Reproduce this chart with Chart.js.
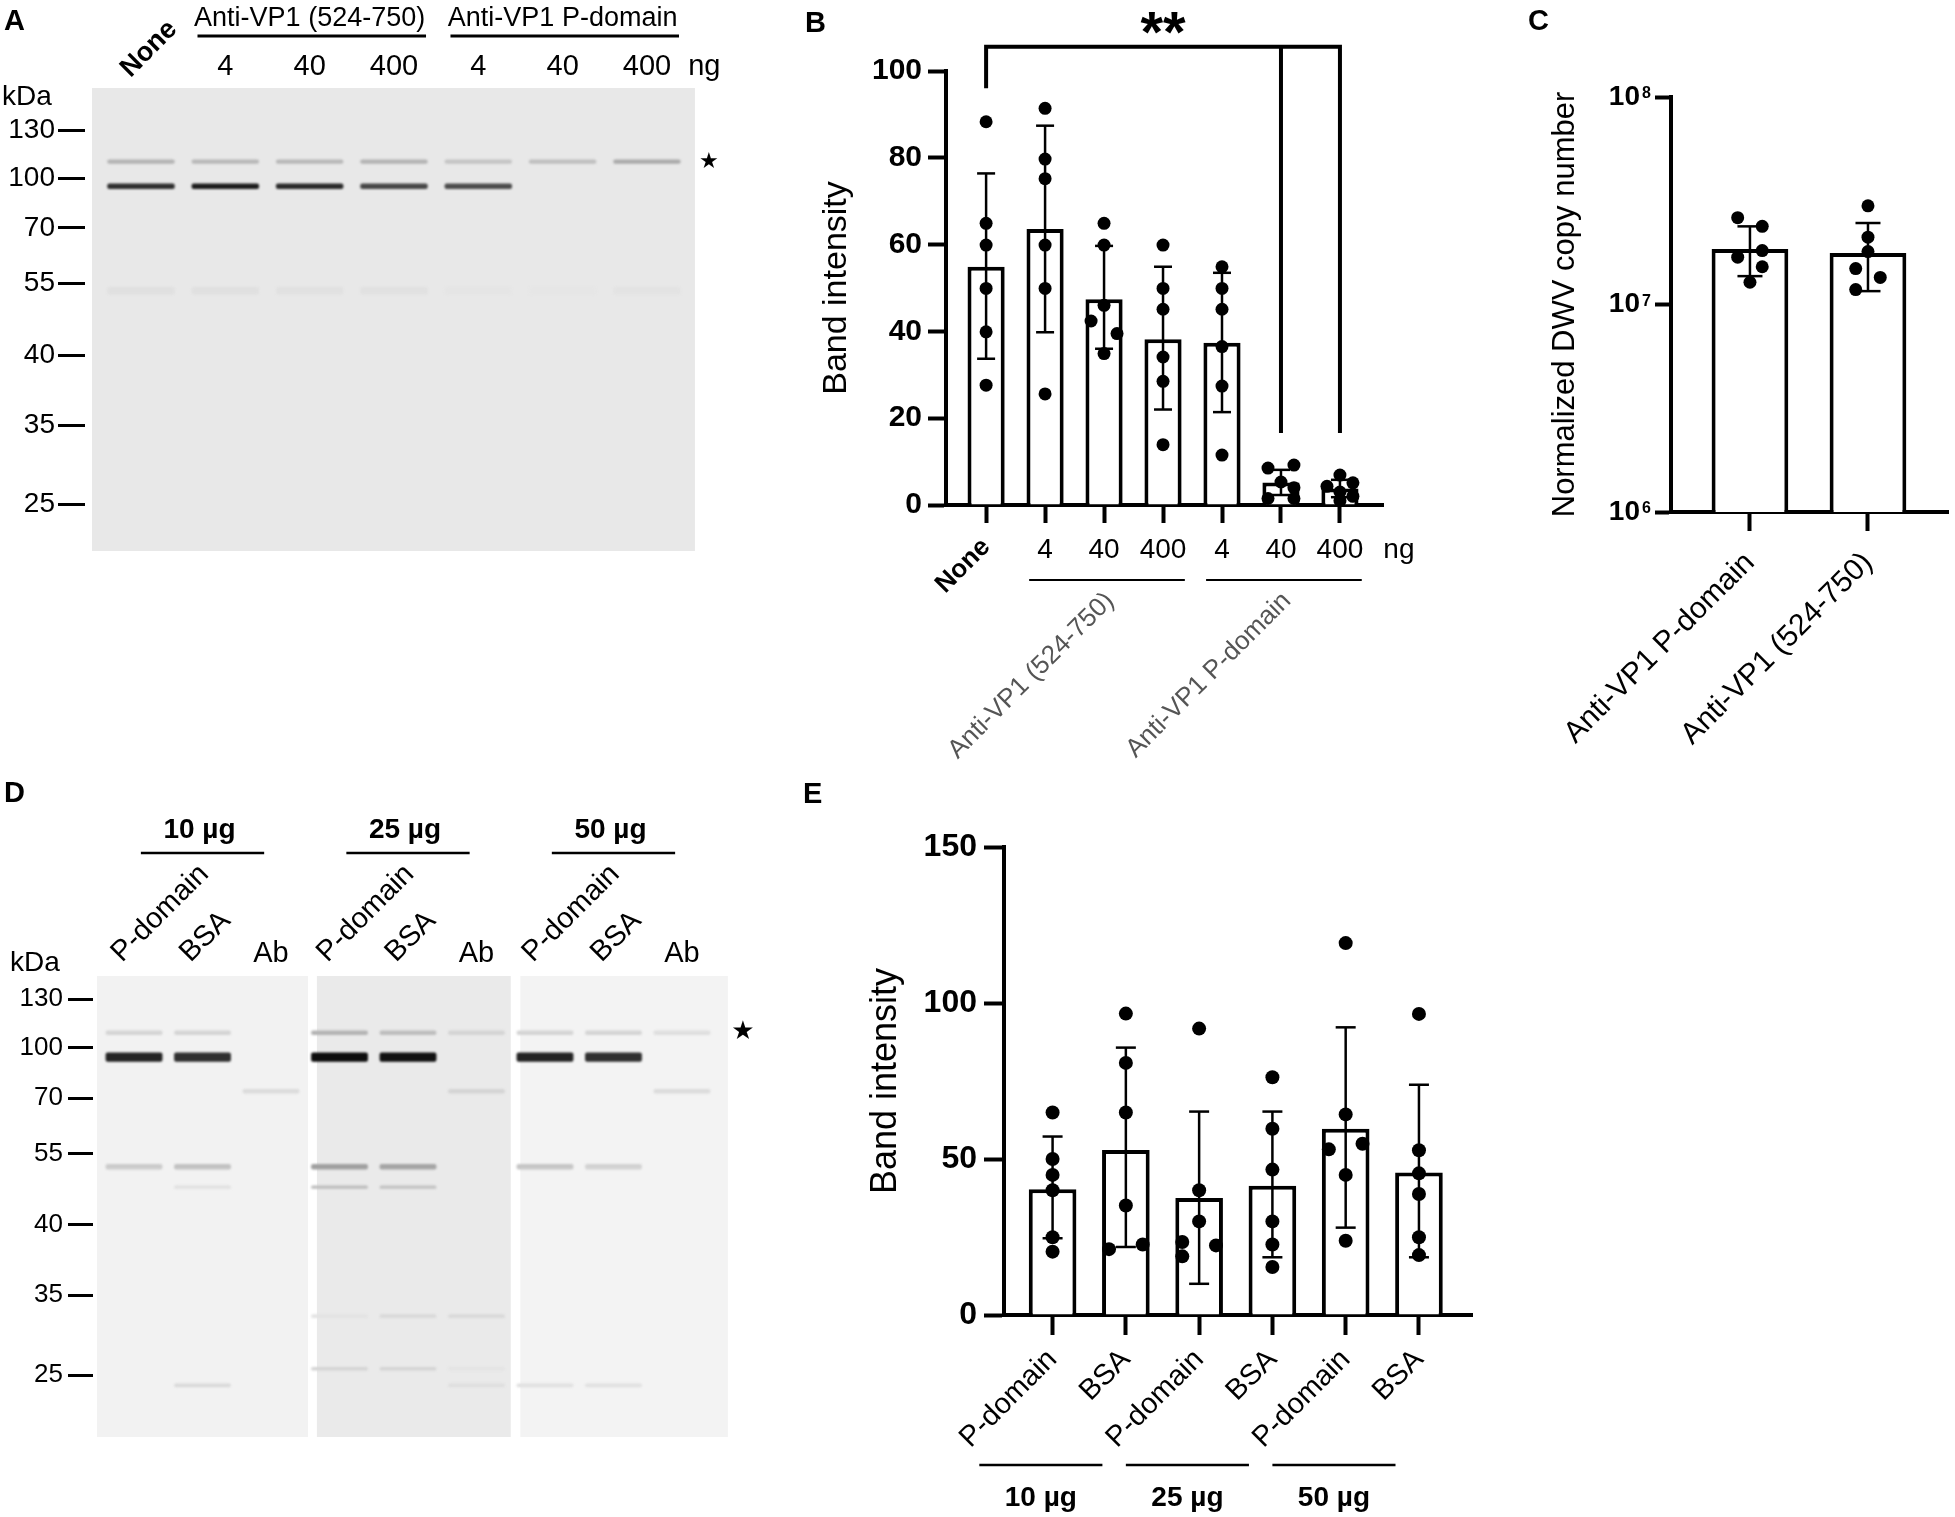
<!DOCTYPE html>
<html lang="en">
<head>
<meta charset="utf-8">
<title>VP1 antibody blots and band intensity</title>
<script src="https://cdn.jsdelivr.net/npm/chart.js@4.4.1/dist/chart.umd.min.js"></script>
<style>
  html, body { margin: 0; padding: 0; background: #fff; }
  #figure { position: relative; width: 1955px; height: 1517px; overflow: hidden; }
  #figure canvas { position: absolute; }
</style>
</head>
<body>
<div id="figure">
  <canvas id="panelA" width="760" height="770" style="left:0px;top:0px;width:760px;height:770px"></canvas>
  <canvas id="panelB" width="700" height="770" style="left:760px;top:0px;width:700px;height:770px"></canvas>
  <canvas id="panelC" width="495" height="770" style="left:1460px;top:0px;width:495px;height:770px"></canvas>
  <canvas id="panelD" width="760" height="747" style="left:0px;top:770px;width:760px;height:747px"></canvas>
  <canvas id="panelE" width="760" height="747" style="left:760px;top:770px;width:760px;height:747px"></canvas>
</div>
<script>
// ---------- Panel A : western blot ----------
const blotALanes = ['None', '4', '40', '400', '4', '40', '400'];
const blotAGroups = ['Anti-VP1 (524-750)', 'Anti-VP1 P-domain'];
const blotAGroupLanes = [[1, 3], [4, 6]];
const blotAKda = [130, 100, 70, 55, 40, 35, 25];
const blotAMarkerPos = [9.1, 19.5, 30.2, 42.2, 57.8, 72.9, 89.9];   // % of gel height
const blotABandPos = [15.9, 21.2, 43.8];
const blotABandDark = [
  [0.24, 0.22, 0.22, 0.24, 0.17, 0.19, 0.28],
  [0.80, 0.88, 0.82, 0.70, 0.68, 0, 0],
  [0.05, 0.05, 0.045, 0.045, 0.03, 0.025, 0.04]
];

// ---------- Panel B ----------
const bLanes = ['None', '4', '40', '400', '4', '40', '400'];
const bUnit = 'ng';
const bGroups = ['Anti-VP1 (524-750)', 'Anti-VP1 P-domain'];
const bGroupLanes = [[1, 3], [4, 6]];
const bTicks = [0, 20, 40, 60, 80, 100];
const bMeans = [54.9, 63.6, 47.4, 38.2, 37.4, 5.2, 3.8];
const bSdLow = [33.7, 39.8, 36.0, 22.0, 21.4, 2.3, 1.8];
const bSdHigh = [76.4, 87.4, 59.7, 54.9, 53.5, 8.1, 5.8];
const bDots = [
  [88.3, 64.9, 59.9, 49.9, 39.9, 27.6],
  [91.4, 79.7, 75.2, 59.9, 49.9, 25.6],
  [64.9, 59.9, 46.0, 42.4, 39.5, 34.9],
  [59.9, 49.9, 45.1, 34.1, 28.5, 13.9],
  [54.9, 49.9, 45.1, 36.5, 27.4, 11.5],
  [9.2, 8.5, 5.3, 4.0, 1.5, 1.5],
  [6.9, 5.1, 4.3, 3.0, 2.0, 1.0]
];
const bDotSide = [
  [0, 0, 0, 0, 0, 0],
  [0, 0, 0, 0, 0, 0],
  [0, 0, 0, -1, 1, 0],
  [0, 0, 0, 0, 0, 0],
  [0, 0, 0, 0, 0, 0],
  [1, -1, 0, 1, -1, 1],
  [0, 1, -1, 0, 1, 0]
];
const bSignif = '**';

// ---------- Panel C ----------
const cLabels = ['Anti-VP1 P-domain', 'Anti-VP1 (524-750)'];
const cTicks = [1e6, 1e7, 1e8];
const cMeans = [1.85e7, 1.77e7];
const cSdLow = [1.37e7, 1.16e7];
const cSdHigh = [2.38e7, 2.47e7];
const cDots = [
  [2.62e7, 2.38e7, 1.82e7, 1.69e7, 1.52e7, 1.28e7],
  [2.99e7, 2.11e7, 1.80e7, 1.49e7, 1.35e7, 1.18e7]
];
const cDotSide = [
  [-1, 1, 1, -1, 1, 0],
  [0, 0, 0, -1, 1, -1]
];

// ---------- Panel D : western blot ----------
const blotDLanes = ['P-domain', 'BSA', 'Ab', 'P-domain', 'BSA', 'Ab', 'P-domain', 'BSA', 'Ab'];
const blotDGroups = ['10 µg', '25 µg', '50 µg'];
const blotDKda = [130, 100, 70, 55, 40, 35, 25];
const blotDMarkerPos = [5.0, 15.6, 26.5, 38.6, 54.0, 69.2, 86.6];
const blotDBandPos = [12.3, 17.6, 25.0, 41.4, 45.8, 73.8, 85.2, 88.8];
const blotDBandDark = [
  [0.10, 0.10, 0, 0.24, 0.20, 0.10, 0.10, 0.10, 0.06],
  [0.85, 0.80, 0, 0.95, 0.93, 0, 0.85, 0.80, 0],
  [0, 0, 0.07, 0, 0, 0.10, 0, 0, 0.07],
  [0.14, 0.18, 0, 0.32, 0.30, 0, 0.16, 0.11, 0],
  [0, 0.05, 0, 0.20, 0.18, 0, 0, 0, 0],
  [0, 0, 0, 0.04, 0.08, 0.08, 0, 0, 0],
  [0, 0, 0, 0.10, 0.10, 0.04, 0, 0, 0],
  [0, 0.08, 0, 0, 0, 0.06, 0.05, 0.05, 0]
];

// ---------- Panel E ----------
const eLanes = ['P-domain', 'BSA', 'P-domain', 'BSA', 'P-domain', 'BSA'];
const eGroups = ['10 µg', '25 µg', '50 µg'];
const eTicks = [0, 50, 100, 150];
const eMeans = [40.3, 52.9, 37.5, 41.4, 59.7, 45.7];
const eSdLow = [24.6, 21.8, 10.0, 18.5, 28.0, 18.5];
const eSdHigh = [57.2, 85.7, 65.2, 65.2, 92.2, 73.8];
const eDots = [
  [64.9, 50.0, 44.9, 40.0, 24.9, 20.3],
  [96.6, 80.8, 64.9, 35.1, 22.6, 21.1],
  [91.8, 40.0, 30.0, 23.4, 22.3, 18.8],
  [76.2, 59.7, 46.6, 30.0, 22.6, 15.4],
  [119.2, 64.3, 54.9, 53.1, 44.9, 23.8],
  [96.5, 52.8, 45.4, 38.8, 24.9, 19.2]
];
const eDotSide = [
  [0, 0, 0, 0, 0, 0],
  [0, 0, 0, 0, 1, -1],
  [0, 0, 0, -1, 1, -1],
  [0, 0, 0, 0, 0, 0],
  [0, 0, 1, -1, 0, 0],
  [0, 0, 0, 0, 0, 0]
];

// ---------- helpers ----------
const SANS = "'Liberation Sans', Arial, Helvetica, sans-serif";
const STAR = "'DejaVu Sans', sans-serif";
const DIAG = -Math.PI / 4;

Chart.defaults.font.family = SANS;
Chart.defaults.color = '#000';

function text(ctx, s, x, y, font, opt = {}) {
  ctx.save();
  ctx.font = font;
  ctx.fillStyle = opt.color || '#000';
  ctx.textAlign = opt.align || 'center';
  ctx.textBaseline = opt.baseline || 'alphabetic';
  ctx.translate(x, y);
  if (opt.rot) ctx.rotate(opt.rot);
  ctx.fillText(s, 0, 0);
  ctx.restore();
}

function line(ctx, pts, width) {
  ctx.save();
  ctx.strokeStyle = '#000';
  ctx.lineWidth = width;
  ctx.beginPath();
  pts.forEach(([x, y], i) => (i ? ctx.lineTo(x, y) : ctx.moveTo(x, y)));
  ctx.stroke();
  ctx.restore();
}

function gray(d) {
  const v = Math.round(236 * (1 - d));
  return `rgb(${v},${v},${v})`;
}

const ticksAt = values => scale => { scale.ticks = values.map(value => ({ value })); };
const lanesOf = list => list.map((_, i) => i);

function commonOptions(padding) {
  return {
    responsive: false,
    maintainAspectRatio: false,
    devicePixelRatio: 1,
    animation: false,
    events: [],
    layout: { padding },
    plugins: { legend: { display: false }, tooltip: { enabled: false } }
  };
}

function valueAxis(o) {
  const ticks = { color: '#000', font: { size: o.fontSize, weight: 'bold' }, padding: o.padding, autoSkip: false };
  if (o.callback) ticks.callback = o.callback;
  return {
    type: o.type || 'linear',
    min: o.min,
    max: o.max,
    afterBuildTicks: ticksAt(o.ticks),
    afterFit: scale => { scale.width = o.width; },
    border: { display: true, color: '#000', width: 4 },
    grid: { drawOnChartArea: false, tickLength: o.tickLength, tickWidth: 4, tickColor: '#000' },
    ticks,
    title: { display: true, text: o.title, color: '#000', font: { size: o.titleSize }, padding: { top: o.titlePad, bottom: 0 } }
  };
}

function laneAxis(o) {
  return {
    type: 'linear',
    min: o.min,
    max: o.max,
    offset: false,
    z: 1,
    afterBuildTicks: ticksAt(o.lanes),
    afterFit: scale => { scale.height = o.height; },
    border: { display: true, color: '#000', width: 4 },
    grid: { offset: false, drawOnChartArea: false, tickLength: o.tickLength, tickWidth: 4, tickColor: '#000' },
    ticks: { display: false, autoSkip: false }
  };
}

function dotPoints(dots, sides, jitter) {
  const pts = [];
  dots.forEach((vals, i) => vals.forEach((v, k) => pts.push({ x: i + sides[i][k] * jitter, y: v })));
  return pts;
}

function barDataset(means, pct) {
  return {
    type: 'bar',
    order: 2,
    data: means.map((v, i) => ({ x: i, y: v })),
    backgroundColor: '#fff',
    borderColor: '#000',
    borderWidth: 4,
    barPercentage: pct,
    categoryPercentage: 1
  };
}

function dotDataset(points, r) {
  return { type: 'scatter', order: 1, data: points, pointRadius: r, pointBackgroundColor: '#000', pointBorderWidth: 0 };
}

function errorBars(lows, highs, capHalf) {
  return {
    id: 'errorBars',
    afterDatasetsDraw(chart) {
      const { ctx, scales: { x, y } } = chart;
      lows.forEach((lo, i) => {
        const px = x.getPixelForValue(i);
        const yl = y.getPixelForValue(lo);
        const yh = y.getPixelForValue(highs[i]);
        line(ctx, [[px, yl], [px, yh]], 2.5);
        line(ctx, [[px - capHalf, yl], [px + capHalf, yl]], 2.5);
        line(ctx, [[px - capHalf, yh], [px + capHalf, yh]], 2.5);
      });
    }
  };
}

function blotBackground(strips, colors) {
  return {
    id: 'blotBackground',
    beforeDatasetsDraw(chart) {
      const { ctx, scales: { x, y } } = chart;
      const top = y.getPixelForValue(0);
      const bottom = y.getPixelForValue(100);
      strips.forEach(([a, b], i) => {
        const x1 = x.getPixelForValue(a);
        ctx.fillStyle = colors[i];
        ctx.fillRect(x1, top, x.getPixelForValue(b) - x1, bottom - top);
      });
      ctx.filter = 'blur(1px)'; // soften the bands a little
    },
    afterDatasetsDraw(chart) {
      chart.ctx.filter = 'none';
    }
  };
}

function blotChart(id, o) {
  const datasets = o.bandPos.map((pos, r) => {
    const lanes = lanesOf(o.lanes).filter(i => o.dark[r][i] > 0);
    return {
      type: 'bar',
      grouped: false,
      data: lanes.map(i => ({ x: i, y: [pos - o.half[r], pos + o.half[r]] })),
      backgroundColor: lanes.map(i => gray(o.dark[r][i])),
      borderWidth: 0,
      borderSkipped: false,
      borderRadius: 2,
      barPercentage: o.bandWidth,
      categoryPercentage: 1
    };
  });
  return new Chart(document.getElementById(id), {
    type: 'bar',
    data: { datasets },
    options: {
      ...commonOptions(o.padding),
      scales: {
        x: {
          type: 'linear', display: false, offset: false, grid: { offset: false },
          min: o.xMin, max: o.xMax, afterBuildTicks: ticksAt(lanesOf(o.lanes))
        },
        y: {
          type: 'linear',
          reverse: true,
          min: 0,
          max: 100,
          afterBuildTicks: ticksAt(o.markerPos),
          afterFit: scale => { scale.width = o.axisWidth; },
          border: { display: false },
          grid: { drawOnChartArea: false, tickLength: o.tickLength, tickWidth: 3, tickColor: '#000' },
          ticks: { color: '#000', font: { size: o.fontSize }, padding: o.tickPad, autoSkip: false, callback: (v, i) => o.kda[i] }
        }
      }
    },
    plugins: [blotBackground(o.strips, o.stripColors), o.decor]
  });
}

// ---------- panel A ----------
const panelADecor = {
  id: 'panelADecor',
  afterDraw(chart) {
    const { ctx, scales: { x, y } } = chart;
    const px = v => x.getPixelForValue(v);
    text(ctx, 'A', 4, 30, `bold 29px ${SANS}`, { align: 'left' });
    text(ctx, blotALanes[0], px(0) + 8, 49, `bold 27px ${SANS}`, { baseline: 'middle', rot: DIAG });
    blotALanes.slice(1).forEach((lab, k) => text(ctx, lab, px(k + 1), 75, `29px ${SANS}`));
    text(ctx, 'ng', px(6.68), 75, `29px ${SANS}`);
    blotAGroupLanes.forEach(([a, b], g) => {
      text(ctx, blotAGroups[g], (px(a) + px(b)) / 2, 26, `27px ${SANS}`);
      line(ctx, [[px(a - 0.33), 36], [px(b + 0.38), 36]], 3);
    });
    text(ctx, 'kDa', 2, 105, `28px ${SANS}`, { align: 'left' });
    text(ctx, '★', px(6.569) + 14, y.getPixelForValue(blotABandPos[0]) + 1, `22px ${STAR}`, { baseline: 'middle' });
  }
};

blotChart('panelA', {
  lanes: blotALanes,
  kda: blotAKda,
  markerPos: blotAMarkerPos,
  bandPos: blotABandPos,
  dark: blotABandDark,
  half: [0.45, 0.6, 0.8],
  bandWidth: 0.8,
  padding: { left: 0, top: 88, right: 60, bottom: 219 },
  xMin: -0.664,
  xMax: 6.629,
  strips: [[-0.581, 6.569]],
  stripColors: ['#e8e8e8'],
  axisWidth: 85,
  tickLength: 27,
  tickPad: 3,
  fontSize: 28,
  decor: panelADecor
});

// ---------- panel B ----------
const panelBDecor = {
  id: 'panelBDecor',
  afterDraw(chart) {
    const { ctx, scales: { x, y } } = chart;
    const px = v => x.getPixelForValue(v);
    text(ctx, 'B', 45, 32, `bold 29px ${SANS}`, { align: 'left' });
    bLanes.forEach((lab, i) => {
      if (i === 0) text(ctx, lab, px(i), 543, `bold 26px ${SANS}`, { align: 'right', baseline: 'middle', rot: DIAG });
      else text(ctx, lab, px(i), 550, `28px ${SANS}`, { baseline: 'middle' });
    });
    text(ctx, bUnit, px(bLanes.length), 550, `28px ${SANS}`, { baseline: 'middle' });
    bGroupLanes.forEach(([a, b], g) => {
      line(ctx, [[px(a - 0.27), 580], [px(b + 0.37), 580]], 2);
      text(ctx, bGroups[g], (px(a) + px(b)) / 2 + 6, 597, `26px ${SANS}`,
        { align: 'right', baseline: 'middle', rot: DIAG, color: '#555' });
    });
    // None vs anti-P-domain 40 and 400 ng
    const top = y.getPixelForValue(105.6);
    line(ctx, [[px(0), y.getPixelForValue(96)], [px(0), top], [px(6), top], [px(6), y.getPixelForValue(16.6)]], 4);
    line(ctx, [[px(5), top], [px(5), y.getPixelForValue(16.6)]], 4);
    text(ctx, bSignif, (px(0) + px(6)) / 2, top + 5, `bold 58px ${SANS}`);
  }
};

new Chart(document.getElementById('panelB'), {
  type: 'bar',
  data: { datasets: [barDataset(bMeans, 0.63), dotDataset(dotPoints(bDots, bDotSide, 0.22), 6.5)] },
  options: {
    ...commonOptions({ left: 0, top: 71, right: 77, bottom: 0 }),
    scales: {
      x: laneAxis({ min: -0.68, max: 6.73, lanes: lanesOf(bLanes), height: 265, tickLength: 18 }),
      y: valueAxis({ min: 0, max: 100, ticks: bTicks, width: 186, tickLength: 18, padding: 6, fontSize: 30,
        title: 'Band intensity', titleSize: 34, titlePad: 56 })
    }
  },
  plugins: [errorBars(bSdLow, bSdHigh, 9), panelBDecor]
});

// ---------- panel C ----------
const panelCDecor = {
  id: 'panelCDecor',
  afterDraw(chart) {
    const { ctx, chartArea, scales: { x, y } } = chart;
    text(ctx, 'C', 68, 30, `bold 29px ${SANS}`, { align: 'left' });
    // exponent of each decade label
    cTicks.forEach(v => text(ctx, String(Math.round(Math.log10(v))), chartArea.left - 29,
      y.getPixelForValue(v) + 1, `bold 16px ${SANS}`, { align: 'left' }));
    cLabels.forEach((lab, i) => text(ctx, lab, x.getPixelForValue(i), 558, `30px ${SANS}`,
      { align: 'right', baseline: 'middle', rot: DIAG }));
  }
};

new Chart(document.getElementById('panelC'), {
  type: 'bar',
  data: { datasets: [barDataset(cMeans, 0.65), dotDataset(dotPoints(cDots, cDotSide, 0.104), 6.5)] },
  options: {
    ...commonOptions({ left: 0, top: 97, right: 7, bottom: 0 }),
    scales: {
      x: laneAxis({ min: -0.669, max: 1.678, lanes: lanesOf(cLabels), height: 258, tickLength: 19 }),
      y: valueAxis({ type: 'logarithmic', min: 1e6, max: 1e8, ticks: cTicks, width: 211, tickLength: 16, padding: 15,
        fontSize: 28, title: 'Normalized DWV copy number', titleSize: 31, titlePad: 87,
        callback: () => '10' })
    }
  },
  plugins: [errorBars(cSdLow, cSdHigh, 12.5), panelCDecor]
});

// ---------- panel D ----------
const panelDDecor = {
  id: 'panelDDecor',
  afterDraw(chart) {
    const { ctx, scales: { x, y } } = chart;
    const px = v => x.getPixelForValue(v);
    text(ctx, 'D', 4, 32, `bold 29px ${SANS}`, { align: 'left' });
    blotDGroups.forEach((g, k) => {
      const c = 3 * k + 1;
      text(ctx, g, px(c) - 3, 68, `bold 28px ${SANS}`);
      line(ctx, [[px(c - 0.9), 83], [px(c + 0.9), 83]], 2.5);
    });
    blotDLanes.forEach((lab, i) => {
      if (lab === 'Ab') text(ctx, lab, px(i), 192, `29px ${SANS}`);
      else text(ctx, lab, px(i) - 12, 193, `29px ${SANS}`, { align: 'left', rot: DIAG });
    });
    text(ctx, 'kDa', 10, 201, `28px ${SANS}`, { align: 'left' });
    text(ctx, '★', px(8.67) + 15, y.getPixelForValue(blotDBandPos[0]), `26px ${STAR}`, { baseline: 'middle' });
  }
};

blotChart('panelD', {
  lanes: blotDLanes,
  kda: blotDKda,
  markerPos: blotDMarkerPos,
  bandPos: blotDBandPos,
  dark: blotDBandDark,
  half: [0.5, 1.0, 0.5, 0.6, 0.35, 0.4, 0.4, 0.4],
  bandWidth: 0.83,
  padding: { left: 0, top: 206, right: 32, bottom: 80 },
  xMin: -0.599,
  xMax: 8.672,
  strips: [[-0.54, 2.54], [2.67, 5.5], [5.64, 8.67]],
  stripColors: ['#f2f2f2', '#eaeaea', '#f3f3f3'],
  axisWidth: 93,
  tickLength: 25,
  tickPad: 5,
  fontSize: 26,
  decor: panelDDecor
});

// ---------- panel E ----------
const panelEDecor = {
  id: 'panelEDecor',
  afterDraw(chart) {
    const { ctx, scales: { x } } = chart;
    const px = v => x.getPixelForValue(v);
    text(ctx, 'E', 43, 33, `bold 29px ${SANS}`, { align: 'left' });
    eLanes.forEach((lab, i) => text(ctx, lab, px(i), 585, `29px ${SANS}`,
      { align: 'right', baseline: 'middle', rot: DIAG }));
    eGroups.forEach((g, k) => {
      const c = 2 * k + 0.5 - 0.66;
      line(ctx, [[px(c - 0.84), 695], [px(c + 0.84), 695]], 2.5);
      text(ctx, g, px(c), 736, `bold 28px ${SANS}`);
    });
  }
};

new Chart(document.getElementById('panelE'), {
  type: 'bar',
  data: { datasets: [barDataset(eMeans, 0.65), dotDataset(dotPoints(eDots, eDotSide, 0.23), 7)] },
  options: {
    ...commonOptions({ left: 0, top: 77, right: 48, bottom: 0 }),
    scales: {
      x: laneAxis({ min: -0.663, max: 5.724, lanes: lanesOf(eLanes), height: 202, tickLength: 20 }),
      y: valueAxis({ min: 0, max: 150, ticks: eTicks, width: 244, tickLength: 20, padding: 7, fontSize: 32,
        title: 'Band intensity', titleSize: 36, titlePad: 104 })
    }
  },
  plugins: [errorBars(eSdLow, eSdHigh, 10), panelEDecor]
});
</script>
</body>
</html>
